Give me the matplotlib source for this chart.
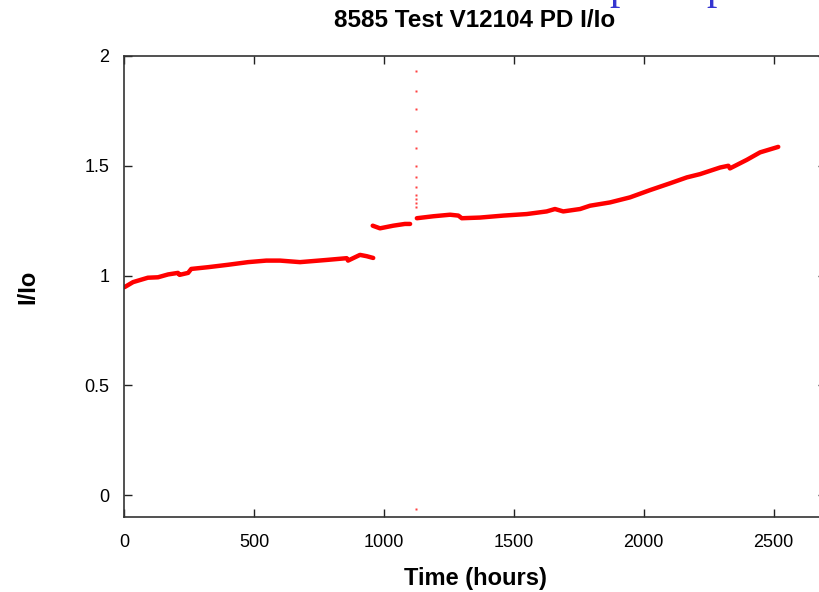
import numpy as np
import matplotlib
matplotlib.use('Agg')
import matplotlib.pyplot as plt

# Values (hours, I/Io).
seg1_hours = [0, 33, 90, 129, 168, 206, 212, 245, 257, 322, 399, 476, 546,
              599, 676, 779, 856, 861, 907, 933, 958]
seg1_ratio = [0.947, 0.970, 0.990, 0.992, 1.005, 1.012, 1.003, 1.012, 1.030,
              1.038, 1.049, 1.061, 1.068, 1.068, 1.061, 1.071, 1.079, 1.068,
              1.094, 1.088, 1.080]

seg2_hours = [956, 984, 1035, 1080, 1100]
seg2_ratio = [1.227, 1.215, 1.227, 1.235, 1.235]

seg3_hours = [1126, 1190, 1254, 1286, 1299, 1369, 1459, 1549, 1626, 1658,
              1690, 1755, 1793, 1870, 1947, 2024, 2101, 2166, 2217, 2294,
              2326, 2332, 2397, 2448, 2518]
seg3_ratio = [1.261, 1.270, 1.277, 1.273, 1.261, 1.264, 1.273, 1.280, 1.292,
              1.303, 1.292, 1.303, 1.318, 1.333, 1.356, 1.389, 1.420, 1.447,
              1.462, 1.492, 1.500, 1.488, 1.527, 1.561, 1.586]

# Recovery spike after the restart, plus one bad reading.
spike_hours = [1122] * 13
spike_ratio = [1.932, 1.841, 1.758, 1.659, 1.583, 1.500, 1.450, 1.405,
               1.368, 1.347, 1.329, 1.310, -0.065]

xticks = [0, 500, 1000, 1500, 2000, 2500]
yticks = [0, 0.5, 1, 1.5, 2]
ytick_labels = ['0', '0.5', '1', '1.5', '2']

plt.rcParams['font.family'] = ['Liberation Sans', 'DejaVu Sans']

W, H = 819, 592
fig = plt.figure(figsize=(W / 100, H / 100), dpi=100)
ax = fig.add_axes([124.5 / W, 75 / H, 701 / W, 461 / H])

red = '#ff0000'
for xs, ys in [(seg1_hours, seg1_ratio), (seg2_hours, seg2_ratio),
               (seg3_hours, seg3_ratio)]:
    ax.plot(xs, ys, color=red, lw=3.2, solid_capstyle='round')
ax.plot(spike_hours, spike_ratio, ls='none', marker='s', ms=2,
        mec='none', mfc='#ff4040')

ax.set_xlim(0, 2700)
ax.set_ylim(-0.1, 2)
ax.set_xticks(xticks)
ax.set_xticklabels([str(t) for t in xticks])
ax.set_yticks(yticks)
ax.set_yticklabels(ytick_labels)

ax.tick_params(direction='in', length=5.8, width=1, top=True, right=True,
               labelsize=13, color='#222222')
ax.tick_params(axis='x', pad=12)
ax.tick_params(axis='y', pad=11)
for s in ax.spines.values():
    s.set_color('#333333')
    s.set_linewidth(1.2)

ax.set_title('8585 Test V12104 PD I/Io', fontsize=17.5, fontweight='bold', pad=21)
ax.set_xlabel('Time (hours)', fontsize=17, fontweight='bold', va='top')
ax.xaxis.set_label_coords(0.5, -0.1085)
ax.set_ylabel('I/Io', fontsize=17, fontweight='bold')
ax.yaxis.label.set_va('center')
ax.yaxis.set_label_coords(-0.1377, 0.5)

# Blue serif letters cut off at the top edge of the page.
for xp in [609, 706]:
    fig.text(xp / W, 1 + 1 / H, 'p', fontsize=30, color='#3535d0',
             family='Liberation Serif', va='baseline', ha='left')

fig.savefig('out.png', dpi=100)
